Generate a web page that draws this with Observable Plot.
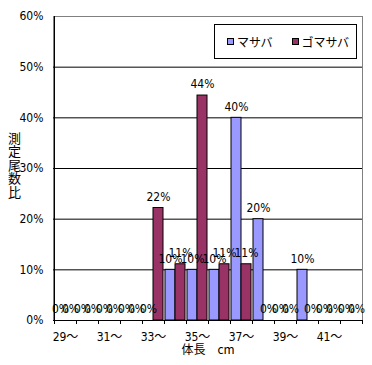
<!DOCTYPE html>
<html><head><meta charset="utf-8">
<script src="https://cdn.jsdelivr.net/npm/d3@7"></script>
<script src="https://cdn.jsdelivr.net/npm/@observablehq/plot@0.6"></script>
<style>
body{margin:0;background:#fff;}
#chart{position:relative;width:372px;height:365px;}
.legend{position:absolute;left:214px;top:24px;width:143px;height:35px;border:1px solid #000;background:#fff;display:flex;align-items:center;box-sizing:border-box;padding-left:12px;font:12px "Noto Sans CJK JP";color:#000;white-space:nowrap;}
.legend .item{display:flex;align-items:center;flex:none;}
.legend .item + .item{margin-left:19px;}
.legend .sw{display:inline-block;width:5px;height:5px;border:1px solid #000;margin-right:3px;}
</style>
</head><body>
<div id="chart"></div>
<script>
const categories = ["29～","30～","31～","32～","33～","34～","35～","36～","37～","38～","39～","40～","41～","42～"];
const tickLabels = ["29～","31～","33～","35～","37～","39～","41～"];
const series = ["マサバ","ゴマサバ"];
const colors = ["#9999FF","#993366"];
const masaba   = [0,0,0,0,0,10,10,10,40,20,0,10,0,0];
const gomasaba = [0,0,0,0,22.2,11.1,44.4,11.1,11.1,0,0,0,0,0];
const yTicks = [0,10,20,30,40,50,60];
const yTitle = "測定尾数比";
const xTitle = "体長　cm";

const rows = categories.flatMap((c, i) => [
  {cat: c, series: series[0], value: masaba[i]},
  {cat: c, series: series[1], value: gomasaba[i]}
]);
const s0 = rows.filter(d => d.series === series[0]);
const s1 = rows.filter(d => d.series === series[1]);
const font = '"Noto Sans CJK JP", sans-serif';
const numFont = '"Liberation Sans Narrow", "DejaVu Sans Condensed", "Noto Sans CJK JP", sans-serif';

const chart = Plot.plot({
  width: 372, height: 365,
  marginLeft: 53, marginRight: 10, marginTop: 16, marginBottom: 45,
  style: {fontFamily: numFont, fontSize: "12px", background: "#fff", color: "#000"},
  x: {type: "band", domain: categories, padding: 0, label: null},
  y: {domain: [0, 60], label: null},
  marks: [
    Plot.frame({stroke: "#808080"}),
    Plot.gridY({ticks: yTicks.filter(v => v > 0 && v < 60), stroke: "#000", strokeOpacity: 1}),
    Plot.barY(s0.filter(d => d.value > 0), {x: "cat", y: "value", fill: colors[0], stroke: "#000", insetLeft: 1, insetRight: 11}),
    Plot.barY(s1.filter(d => d.value > 0), {x: "cat", y: "value", fill: colors[1], stroke: "#000", insetLeft: 11, insetRight: 1}),
    Plot.text(s0, {x: "cat", y: "value", text: d => Math.round(d.value) + "%", dx: -5, dy: -11, fontSize: 12}),
    Plot.text(s1, {x: "cat", y: "value", text: d => Math.round(d.value) + "%", dx: 5, dy: -11, fontSize: 12}),
    Plot.ruleY([0], {stroke: "#000"}),
    Plot.ruleX([categories[0]], {dx: -11, stroke: "#000"}),
    Plot.axisX({ticks: categories, tickSize: 4, dx: -11, tickFormat: () => "", stroke: "#000", label: null}),
    Plot.axisX({ticks: [categories[categories.length - 1]], tickSize: 4, dx: 11, tickFormat: () => "", stroke: "#000", label: null}),
    Plot.axisX({ticks: tickLabels, tickSize: 0, tickPadding: 12, fontSize: 12, label: null}),
    Plot.axisY({ticks: yTicks, tickSize: 0, tickPadding: 10, tickFormat: d => d + "%", fontSize: 12, label: null}),
    Plot.text([yTitle.split("").join("\n")], {frameAnchor: "left", textAnchor: "middle", dx: -39, dy: -3, fontSize: 13, lineHeight: 1.04, fontFamily: font}),
    Plot.text([xTitle], {frameAnchor: "bottom", dy: 33, fontSize: 12, fontFamily: font})
  ]
});
const host = document.getElementById("chart");
host.appendChild(chart);

const legend = document.createElement("div");
legend.className = "legend";
series.forEach((s, i) => {
  const item = document.createElement("span");
  item.className = "item";
  const sw = document.createElement("span");
  sw.className = "sw";
  sw.style.background = colors[i];
  item.appendChild(sw);
  item.appendChild(document.createTextNode(s));
  legend.appendChild(item);
});
host.appendChild(legend);
</script>
</body></html>
